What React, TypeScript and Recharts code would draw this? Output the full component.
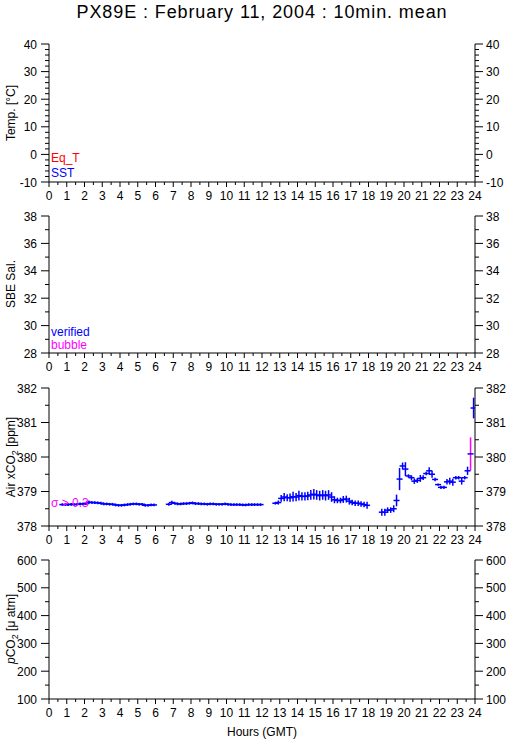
import React from 'react';
import { ScatterChart, Scatter, XAxis, YAxis, ErrorBar } from 'recharts';

const FONT = "'Liberation Sans', Arial, Helvetica, sans-serif";
const BLUE = '#0000ff';
const RED = '#ff0000';
const MAGENTA = '#ff00ff';

// ---- data (Air xCO2, 10-min means) ----
const seg1Hours = [0.75, 0.92, 1.08, 1.25, 1.42, 1.58, 1.75, 1.92, 2.08, 2.25, 2.42, 2.58, 2.75, 2.92, 3.08, 3.25, 3.42, 3.58, 3.75, 3.92, 4.08, 4.25, 4.42, 4.58, 4.75, 4.92, 5.08, 5.25, 5.42, 5.58, 5.75, 5.92];
const seg1Values = [378.62, 378.62, 378.62, 378.63, 378.62, 378.63, 378.64, 378.64, 378.65, 378.69, 378.68, 378.68, 378.67, 378.66, 378.64, 378.64, 378.63, 378.63, 378.61, 378.6, 378.6, 378.61, 378.62, 378.63, 378.64, 378.64, 378.63, 378.63, 378.6, 378.6, 378.61, 378.61];
const seg1Err = [0.04, 0.04, 0.04, 0.04, 0.04, 0.04, 0.04, 0.04, 0.04, 0.05, 0.04, 0.04, 0.04, 0.04, 0.04, 0.04, 0.04, 0.04, 0.04, 0.04, 0.04, 0.04, 0.04, 0.04, 0.04, 0.04, 0.04, 0.04, 0.04, 0.04, 0.04, 0.04];

const seg2Hours = [6.75, 6.92, 7.08, 7.25, 7.42, 7.58, 7.75, 7.92, 8.08, 8.25, 8.42, 8.58, 8.75, 8.92, 9.08, 9.25, 9.42, 9.58, 9.75, 9.92, 10.08, 10.25, 10.42, 10.58, 10.75, 10.92, 11.08, 11.25, 11.42, 11.58, 11.75, 11.92];
const seg2Values = [378.63, 378.68, 378.66, 378.64, 378.64, 378.65, 378.65, 378.66, 378.67, 378.65, 378.65, 378.64, 378.64, 378.63, 378.64, 378.64, 378.63, 378.63, 378.63, 378.64, 378.63, 378.62, 378.62, 378.62, 378.62, 378.61, 378.61, 378.62, 378.62, 378.62, 378.62, 378.62];
const seg2Err = [0.04, 0.05, 0.04, 0.04, 0.04, 0.04, 0.04, 0.04, 0.04, 0.04, 0.04, 0.04, 0.04, 0.04, 0.04, 0.04, 0.04, 0.04, 0.04, 0.04, 0.04, 0.04, 0.04, 0.04, 0.04, 0.04, 0.04, 0.04, 0.04, 0.04, 0.04, 0.04];

const seg3Hours = [12.75, 12.92, 13.08, 13.25, 13.42, 13.58, 13.75, 13.92, 14.08, 14.25, 14.42, 14.58, 14.75, 14.92, 15.08, 15.25, 15.42, 15.58, 15.75, 15.92, 16.08, 16.25, 16.42, 16.58, 16.75, 16.92, 17.08, 17.25, 17.42, 17.58, 17.75, 17.92];
const seg3Values = [378.66, 378.68, 378.8, 378.84, 378.82, 378.82, 378.85, 378.84, 378.88, 378.86, 378.86, 378.87, 378.9, 378.92, 378.9, 378.88, 378.9, 378.88, 378.9, 378.84, 378.76, 378.74, 378.74, 378.77, 378.78, 378.72, 378.68, 378.66, 378.66, 378.64, 378.62, 378.6];
const seg3Err = [0.04, 0.06, 0.1, 0.12, 0.1, 0.12, 0.14, 0.12, 0.14, 0.12, 0.12, 0.12, 0.14, 0.15, 0.14, 0.14, 0.14, 0.14, 0.14, 0.14, 0.1, 0.08, 0.08, 0.1, 0.1, 0.1, 0.08, 0.08, 0.08, 0.08, 0.08, 0.1];

const seg4Hours = [18.75, 18.92, 19.08, 19.25, 19.42, 19.58, 19.75, 19.92, 20.08, 20.25, 20.42, 20.58, 20.75, 20.92, 21.08, 21.25, 21.42, 21.58, 21.75, 21.92, 22.08, 22.25, 22.42, 22.58, 22.75, 22.92, 23.08, 23.25, 23.42, 23.58, 23.92];
const seg4Values = [378.4, 378.4, 378.46, 378.46, 378.5, 378.74, 379.36, 379.74, 379.65, 379.45, 379.4, 379.3, 379.32, 379.38, 379.4, 379.52, 379.6, 379.5, 379.35, 379.2, 379.12, 379.12, 379.28, 379.3, 379.27, 379.4, 379.4, 379.3, 379.4, 379.6, 381.42];
const seg4Err = [0.1, 0.1, 0.08, 0.08, 0.1, 0.17, 0.32, 0.1, 0.2, 0.05, 0.07, 0.08, 0.07, 0.1, 0.07, 0.05, 0.1, 0.1, 0.05, 0.03, 0.05, 0.05, 0.08, 0.1, 0.1, 0.05, 0.05, 0.1, 0.05, 0.12, 0.3];

// flagged (sigma > 0.3)
const flagHours = [23.75];
const flagValues = [380.09];
const flagErr = [0.48];

// ---- axes ----
const hourLabels = [0, 1, 2, 3, 4, 5, 6, 7, 8, 9, 10, 11, 12, 13, 14, 15, 16, 17, 18, 19, 20, 21, 22, 23, 24];
const hourTicks = hourLabels.flatMap((h) => (h < 24 ? [h, h + 0.5] : [h]));

const tempLabels = [-10, 0, 10, 20, 30, 40];
const salLabels = [28, 30, 32, 34, 36, 38];
const xco2Labels = [378, 379, 380, 381, 382];
const pco2Labels = [100, 200, 300, 400, 500, 600];

const minorTicks = (labels: number[], step: number) => {
  const out: number[] = [];
  const lo = labels[0];
  const hi = labels[labels.length - 1];
  const n = Math.round((hi - lo) / step);
  for (let i = 0; i <= n; i++) out.push(+(lo + i * step).toFixed(4));
  return out;
};

const build = (hs: number[], vs: number[], es: number[]) => hs.map((h, i) => ({ h, v: vs[i], err: es[i] }));
const blueData = [
  ...build(seg1Hours, seg1Values, seg1Err),
  ...build(seg2Hours, seg2Values, seg2Err),
  ...build(seg3Hours, seg3Values, seg3Err),
  ...build(seg4Hours, seg4Values, seg4Err),
];
const flagData = build(flagHours, flagValues, flagErr);

const isMajor = (labels: number[], v: number) => labels.some((l) => Math.abs(l - v) < 1e-6);

const makeLeftTick = (labels: number[]) => (p: any) => {
  const major = isMajor(labels, p.payload.value);
  return (
    <g>
      <line x1={p.x} x2={p.x - (major ? 8 : 4)} y1={p.y} y2={p.y} stroke="#000" strokeWidth={1} />
      {major && (
        <text x={p.x - 12} y={p.y + 4.5} textAnchor="end" fontSize={12} fontFamily={FONT} fill="#000">
          {p.payload.value}
        </text>
      )}
    </g>
  );
};

const makeRightTick = (labels: number[]) => (p: any) => {
  const major = isMajor(labels, p.payload.value);
  return (
    <g>
      <line x1={p.x} x2={p.x + (major ? 8 : 4)} y1={p.y} y2={p.y} stroke="#000" strokeWidth={1} />
      {major && (
        <text x={p.x + 11} y={p.y + 4.5} textAnchor="start" fontSize={12} fontFamily={FONT} fill="#000">
          {p.payload.value}
        </text>
      )}
    </g>
  );
};

const bottomTick = (p: any) => {
  const major = isMajor(hourLabels, p.payload.value);
  return (
    <g>
      <line x1={p.x} x2={p.x} y1={p.y} y2={p.y + (major ? 5 : 3)} stroke="#000" strokeWidth={1} />
      {major && (
        <text x={p.x} y={p.y + 18} textAnchor="middle" fontSize={12} fontFamily={FONT} fill="#000">
          {p.payload.value}
        </text>
      )}
    </g>
  );
};

const topTick = (p: any) => {
  const major = isMajor(hourLabels, p.payload.value);
  return <line x1={p.x} x2={p.x} y1={p.y} y2={p.y - (major ? 5 : 3)} stroke="#000" strokeWidth={1} />;
};

const crossShape = (color: string) => (p: any) => (
  <line x1={p.cx - 3} x2={p.cx + 3} y1={p.cy} y2={p.cy} stroke={color} strokeWidth={1.5} />
);

const W = 509;
const TOPPAD = 10;
const BOTPAD = 30;

type PanelProps = {
  top: number;
  h: number;
  domain: [number, number];
  labels: number[];
  step: number;
  children?: React.ReactNode;
};

const Panel = ({ top, h, domain, labels, step, children }: PanelProps) => {
  const ticks = minorTicks(labels, step);
  return (
    <div style={{ position: 'absolute', left: 0, top: top - TOPPAD }}>
      <ScatterChart width={W} height={h + TOPPAD + BOTPAD} margin={{ top: TOPPAD, right: 0, bottom: 0, left: 0 }}>
        <XAxis
          xAxisId="b"
          dataKey="h"
          type="number"
          domain={[0, 24]}
          ticks={hourTicks}
          interval={0}
          allowDataOverflow
          height={BOTPAD}
          tickSize={0}
          tickMargin={0}
          tickLine={false}
          axisLine={{ stroke: '#000' }}
          tick={bottomTick}
        />
        <XAxis
          xAxisId="t"
          orientation="top"
          dataKey="h"
          type="number"
          domain={[0, 24]}
          ticks={hourTicks}
          interval={0}
          allowDataOverflow
          height={0}
          tickSize={0}
          tickMargin={0}
          tickLine={false}
          axisLine={{ stroke: '#000' }}
          tick={topTick}
        />
        <YAxis
          yAxisId="l"
          dataKey="v"
          type="number"
          domain={domain}
          ticks={ticks}
          interval={0}
          allowDataOverflow
          width={49}
          tickSize={0}
          tickMargin={0}
          tickLine={false}
          axisLine={{ stroke: '#000' }}
          tick={makeLeftTick(labels)}
        />
        <YAxis
          yAxisId="r"
          orientation="right"
          dataKey="v"
          type="number"
          domain={domain}
          ticks={ticks}
          interval={0}
          allowDataOverflow
          width={34}
          tickSize={0}
          tickMargin={0}
          tickLine={false}
          axisLine={{ stroke: '#000' }}
          tick={makeRightTick(labels)}
        />
        {children ? children : (
          <Scatter xAxisId="b" yAxisId="l" data={[]} dataKey="v" isAnimationActive={false} />
        )}
      </ScatterChart>
    </div>
  );
};

const txt = { fontFamily: FONT, fontSize: 12 } as const;

export default function App() {
  return (
    <div style={{ position: 'absolute', left: 0, top: 0, width: W, height: 739, background: '#fff', overflow: 'hidden' }}>
      <Panel top={44} h={138} domain={[-10, 40]} labels={tempLabels} step={2} />
      <Panel top={216} h={137} domain={[28, 38]} labels={salLabels} step={1} />
      <Panel top={388} h={138} domain={[378, 382]} labels={xco2Labels} step={0.5}>
        <Scatter xAxisId="b" yAxisId="l" data={blueData} dataKey="v" isAnimationActive={false} shape={crossShape(BLUE)}>
          <ErrorBar dataKey="err" direction="y" width={0} stroke={BLUE} strokeWidth={1.5} />
        </Scatter>
        <Scatter xAxisId="b" yAxisId="l" data={flagData} dataKey="v" isAnimationActive={false} shape={crossShape(BLUE)}>
          <ErrorBar dataKey="err" direction="y" width={0} stroke={MAGENTA} strokeWidth={1.5} />
        </Scatter>
      </Panel>
      <Panel top={560} h={139} domain={[100, 600]} labels={pco2Labels} step={50} />

      <svg width={W} height={739} style={{ position: 'absolute', left: 0, top: 0, pointerEvents: 'none' }}>
        <text x={262} y={18} textAnchor="middle" fontFamily={FONT} fontSize={18} letterSpacing={0.9} fill="#000">
          PX89E : February 11, 2004 : 10min. mean
        </text>

        <text transform="translate(15,113) rotate(-90)" textAnchor="middle" {...txt} fill="#000">Temp. [°C]</text>
        <text transform="translate(15,284) rotate(-90)" textAnchor="middle" {...txt} fill="#000">SBE Sal.</text>
        <text transform="translate(15,457) rotate(-90)" textAnchor="middle" {...txt} fill="#000">
          Air xCO<tspan fontSize={9} dy={3}>2</tspan><tspan dy={-3}> [ppm]</tspan>
        </text>
        <text transform="translate(15,629) rotate(-90)" textAnchor="middle" {...txt} fill="#000">
          <tspan fontStyle="italic">p</tspan>CO<tspan fontSize={9} dy={3}>2</tspan><tspan dy={-3}> [μ atm]</tspan>
        </text>

        <text x={51} y={162} {...txt} fill={RED}>Eq_T</text>
        <text x={51} y={177} {...txt} fill={BLUE}>SST</text>
        <text x={51} y={336} {...txt} fill={BLUE}>verified</text>
        <text x={51} y={349} {...txt} fill={MAGENTA}>bubble</text>
        <text x={51} y={507} {...txt} fill={MAGENTA}>σ &gt; 0.3</text>

        <text x={262} y={736} textAnchor="middle" {...txt} fill="#000">Hours (GMT)</text>
      </svg>
    </div>
  );
}
